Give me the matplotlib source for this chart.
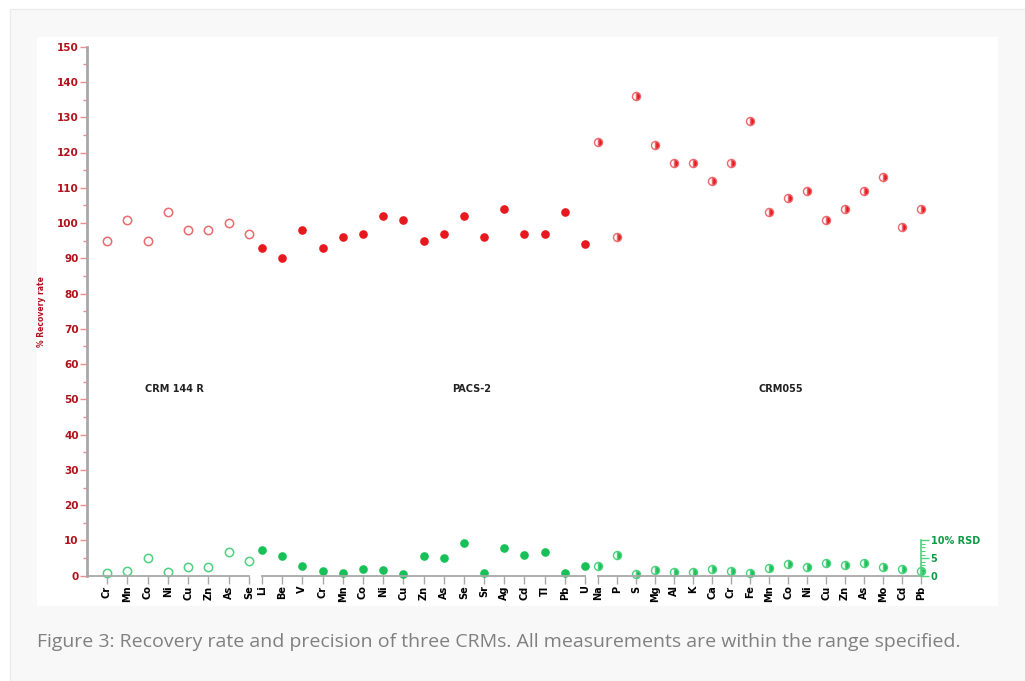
import matplotlib
matplotlib.use("Agg")
import matplotlib.pyplot as plt
from matplotlib.patches import Rectangle
from matplotlib.ticker import MultipleLocator, FixedLocator

# --- Data: recovery rate (%) and precision (% RSD) per CRM ---
crm144_elements = ["Cr", "Mn", "Co", "Ni", "Cu", "Zn", "As", "Se"]
crm144_recovery = [95, 101, 95, 103, 98, 98, 100, 97]
crm144_rsd = [0.8, 1.3, 4.9, 1.1, 2.5, 2.6, 6.6, 4.3]

pacs2_elements = ["Li", "Be", "V", "Cr", "Mn", "Co", "Ni", "Cu", "Zn", "As",
                  "Se", "Sr", "Ag", "Cd", "Tl", "Pb", "U"]
pacs2_recovery = [93, 90, 98, 93, 96, 97, 102, 101, 95, 97, 102, 96, 104, 97, 97, 103, 94]
pacs2_rsd = [7.3, 5.6, 2.8, 1.2, 0.7, 1.8, 1.6, 0.4, 5.7, 5.1, 9.4, 0.7, 7.8, 5.8, 6.8, 0.8, 2.7]

crm055_elements = ["Na", "P", "S", "Mg", "Al", "K", "Ca", "Cr", "Fe", "Mn",
                   "Co", "Ni", "Cu", "Zn", "As", "Mo", "Cd", "Pb"]
crm055_recovery = [123, 96, 136, 122, 117, 117, 112, 117, 129, 103, 107, 109, 101, 104, 109, 113, 99, 104]
crm055_rsd = [2.8, 6.0, 0.5, 1.6, 1.1, 1.1, 1.8, 1.3, 0.9, 2.1, 3.2, 2.6, 3.5, 2.9, 3.5, 2.6, 1.8, 1.4]

group_names = ["CRM 144 R", "PACS-2", "CRM055"]

# --- Style ---
RED = "#e8181f"
RED_LIGHT = "#ea6a6e"
GREEN = "#17c157"
GREEN_LIGHT = "#4fd17f"
DARK_RED = "#b0121c"
AXIS_GREY = "#a8a8a8"

W, H = 1025, 681
fig = plt.figure(figsize=(W / 100, H / 100), dpi=100)
fig.patch.set_facecolor("white")

# page background and white chart card
fig.patches.append(Rectangle((10 / W, 0), 1.0, (H - 9) / H, transform=fig.transFigure,
                             facecolor="#f8f8f8", edgecolor="#ebebeb", lw=1, zorder=-3))
fig.patches.append(Rectangle((37 / W, (H - 606) / H), (998 - 37) / W, (606 - 37) / H,
                             transform=fig.transFigure, facecolor="white",
                             edgecolor="none", zorder=-2))

Y0_PX, Y150_PX = 575.7, 46.7
ax_bottom = (H - Y0_PX) / H
ax_height = (Y0_PX - Y150_PX) / H

# pixel spans for each group: (axes left, axes right, first tick, last tick)
spans = [(87, 255, 107, 249), (255, 592, 262, 585), (592, 925, 598, 921)]
groups = [
    (crm144_elements, crm144_recovery, crm144_rsd, "none"),
    (pacs2_elements, pacs2_recovery, pacs2_rsd, "full"),
    (crm055_elements, crm055_recovery, crm055_rsd, "right"),
]
label_x = [3.3, 10.4, 9.6]

axes = []
for k, ((left, right, first, last), (elems, rec, rsd, fill)) in enumerate(zip(spans, groups)):
    n = len(elems)
    step = (last - first) / (n - 1)
    ax = fig.add_axes([left / W, ax_bottom, (right - left) / W, ax_height])
    ax.set_facecolor("none")
    ax.set_xlim((left - first) / step, (right - first) / step)
    ax.set_ylim(0, 150)
    x = list(range(n))

    if fill == "none":
        ax.plot(x, rec, "o", ms=6, mfc="white", mec=RED_LIGHT, mew=1.1, clip_on=False)
        ax.plot(x, rsd, "o", ms=6, mfc="white", mec=GREEN_LIGHT, mew=1.1, clip_on=False)
    elif fill == "full":
        ax.plot(x, rec, "o", ms=5.2, color=RED, clip_on=False)
        ax.plot(x, rsd, "o", ms=5.2, color=GREEN, clip_on=False)
    else:
        ax.plot(x, rec, "o", ms=5.8, fillstyle="right", mfc=RED, mfcalt="white",
                mec=RED_LIGHT, mew=1.0, clip_on=False)
        ax.plot(x, rsd, "o", ms=5.8, fillstyle="right", mfc=GREEN, mfcalt="white",
                mec=GREEN_LIGHT, mew=1.0, clip_on=False)

    for s in ["top", "right", "left"]:
        ax.spines[s].set_visible(False)
    ax.spines["bottom"].set_color(AXIS_GREY)
    ax.spines["bottom"].set_linewidth(1.3)
    ax.spines["bottom"].set_bounds(ax.get_xlim()[0] if k == 0 else 0, n - 1)

    ax.set_xticks(x)
    ax.set_xticklabels(elems, rotation=90, fontsize=7, fontweight="bold",
                       color="black", va="top")
    ax.tick_params(axis="x", direction="out", length=6, width=1, color=AXIS_GREY, pad=1)
    ax.set_yticks([])

    ax.text(label_x[k], 52.8, group_names[k], ha="center", va="center",
            fontsize=7, fontweight="bold", color="#222222")
    axes.append(ax)

# left recovery-rate axis
ax1 = axes[0]
ax1.spines["left"].set_visible(True)
ax1.spines["left"].set_color(AXIS_GREY)
ax1.spines["left"].set_linewidth(2)
ax1.yaxis.set_major_locator(MultipleLocator(10))
ax1.yaxis.set_minor_locator(MultipleLocator(5))
ax1.tick_params(axis="y", which="major", direction="out", length=5, width=1,
                color="#f08a8d", labelcolor=DARK_RED, labelsize=7.5, pad=1)
ax1.tick_params(axis="y", which="minor", direction="out", length=3, width=1,
                color="#f08a8d")
for lbl in ax1.get_yticklabels():
    lbl.set_fontweight("bold")
ax1.set_ylabel("% Recovery rate", fontsize=5.5, fontweight="bold", color=DARK_RED, labelpad=8)

# small right-hand RSD axis at the last element
ax3 = axes[2]
axr = ax3.twinx()
axr.set_ylim(0, 150)
for s in ["top", "left", "bottom"]:
    axr.spines[s].set_visible(False)
axr.spines["right"].set_position(("data", len(crm055_elements) - 1))
axr.spines["right"].set_bounds(0, 10)
axr.spines["right"].set_color(GREEN_LIGHT)
axr.spines["right"].set_linewidth(1.2)
axr.yaxis.set_major_locator(FixedLocator([0, 5, 10]))
axr.yaxis.set_minor_locator(FixedLocator(range(1, 10)))
axr.set_yticklabels(["0", "5", "10% RSD"])
axr.tick_params(axis="y", which="major", direction="out", length=6, width=1,
                color=GREEN_LIGHT, labelcolor="#0f9a45", labelsize=7, pad=1)
axr.tick_params(axis="y", which="minor", direction="out", length=3, width=0.8,
                color=GREEN_LIGHT)
for lbl in axr.get_yticklabels():
    lbl.set_fontweight("bold")

fig.text(37 / W, (H - 647) / H,
         "Figure 3: Recovery rate and precision of three CRMs. All measurements are within the range specified.",
         fontsize=14, family="Open Sans", color="#808080", ha="left", va="baseline")

fig.savefig("out.png", dpi=100)
